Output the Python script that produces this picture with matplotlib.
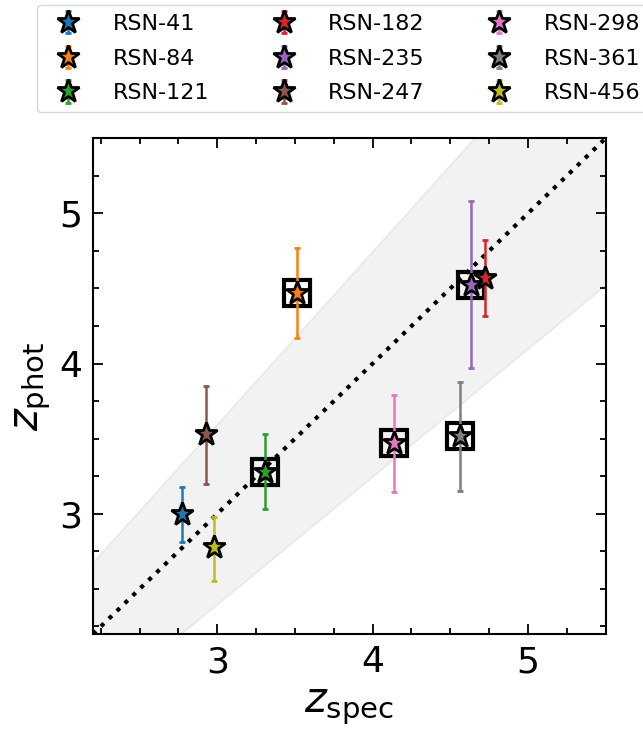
import numpy as np
import matplotlib
matplotlib.use("Agg")
import matplotlib.pyplot as plt

names = ["RSN-41", "RSN-84", "RSN-121", "RSN-182", "RSN-235", "RSN-247",
         "RSN-298", "RSN-361", "RSN-456"]
z_spec = [2.77, 3.51, 3.31, 4.72, 4.635, 2.925, 4.135, 4.56, 2.98]
z_phot = [3.00, 4.47, 3.28, 4.57, 4.525, 3.53, 3.47, 3.52, 2.78]
err_hi = [0.18, 0.30, 0.25, 0.25, 0.555, 0.32, 0.32, 0.36, 0.20]
err_lo = [0.19, 0.30, 0.25, 0.255, 0.555, 0.33, 0.325, 0.365, 0.23]
boxed = [False, True, True, False, True, False, True, True, False]
colors = plt.rcParams["axes.prop_cycle"].by_key()["color"]

lim = (2.2, 5.5)
xticks = [3, 4, 5]
yticks = [3, 4, 5]

fig = plt.figure(figsize=(6.43, 7.35), dpi=100)
ax = fig.add_axes([0.1446, 0.1374, 0.7974, 0.6746])

xx = np.linspace(lim[0], lim[1], 200)
ax.fill_between(xx, xx - 0.15 * (1 + xx), xx + 0.15 * (1 + xx), color="gray", alpha=0.1, lw=1.5, zorder=0)
ax.plot(lim, lim, "k:", lw=3, zorder=1)

for i, n in enumerate(names):
    ax.errorbar(z_spec[i], z_phot[i], yerr=[[err_lo[i]], [err_hi[i]]], fmt="*",
                color=colors[i], mfc=colors[i], mec="k", mew=2, ms=17,
                elinewidth=1.8, capsize=2.5, capthick=1.8, label=n, zorder=3)
    if boxed[i]:
        ax.plot(z_spec[i], z_phot[i], "s", mfc="none", mec="k", mew=3, ms=19,
                zorder=2, solid_joinstyle="round")

ax.set_xlim(lim)
ax.set_ylim(lim)
ax.set_xticks(xticks)
ax.set_yticks(yticks)
ax.xaxis.set_minor_locator(matplotlib.ticker.MultipleLocator(0.25))
ax.yaxis.set_minor_locator(matplotlib.ticker.MultipleLocator(0.25))
ax.tick_params(which="both", direction="in", top=True, right=True, width=1.3)
ax.tick_params(which="major", length=7, labelsize=26, pad=8)
ax.tick_params(which="minor", length=4)
for s in ax.spines.values():
    s.set_linewidth(1.5)
ax.set_xlabel(r"$z_{\rm spec}$", fontsize=30)
ax.set_ylabel(r"$z_{\rm phot}$", fontsize=30)

fig.legend(loc="upper left", bbox_to_anchor=(37 / 643, 1 - 5 / 735), ncol=3,
           fontsize=16, borderaxespad=0, columnspacing=2.35, handletextpad=1.0,
           labelspacing=0.66)

fig.savefig("out.png", dpi=100)
